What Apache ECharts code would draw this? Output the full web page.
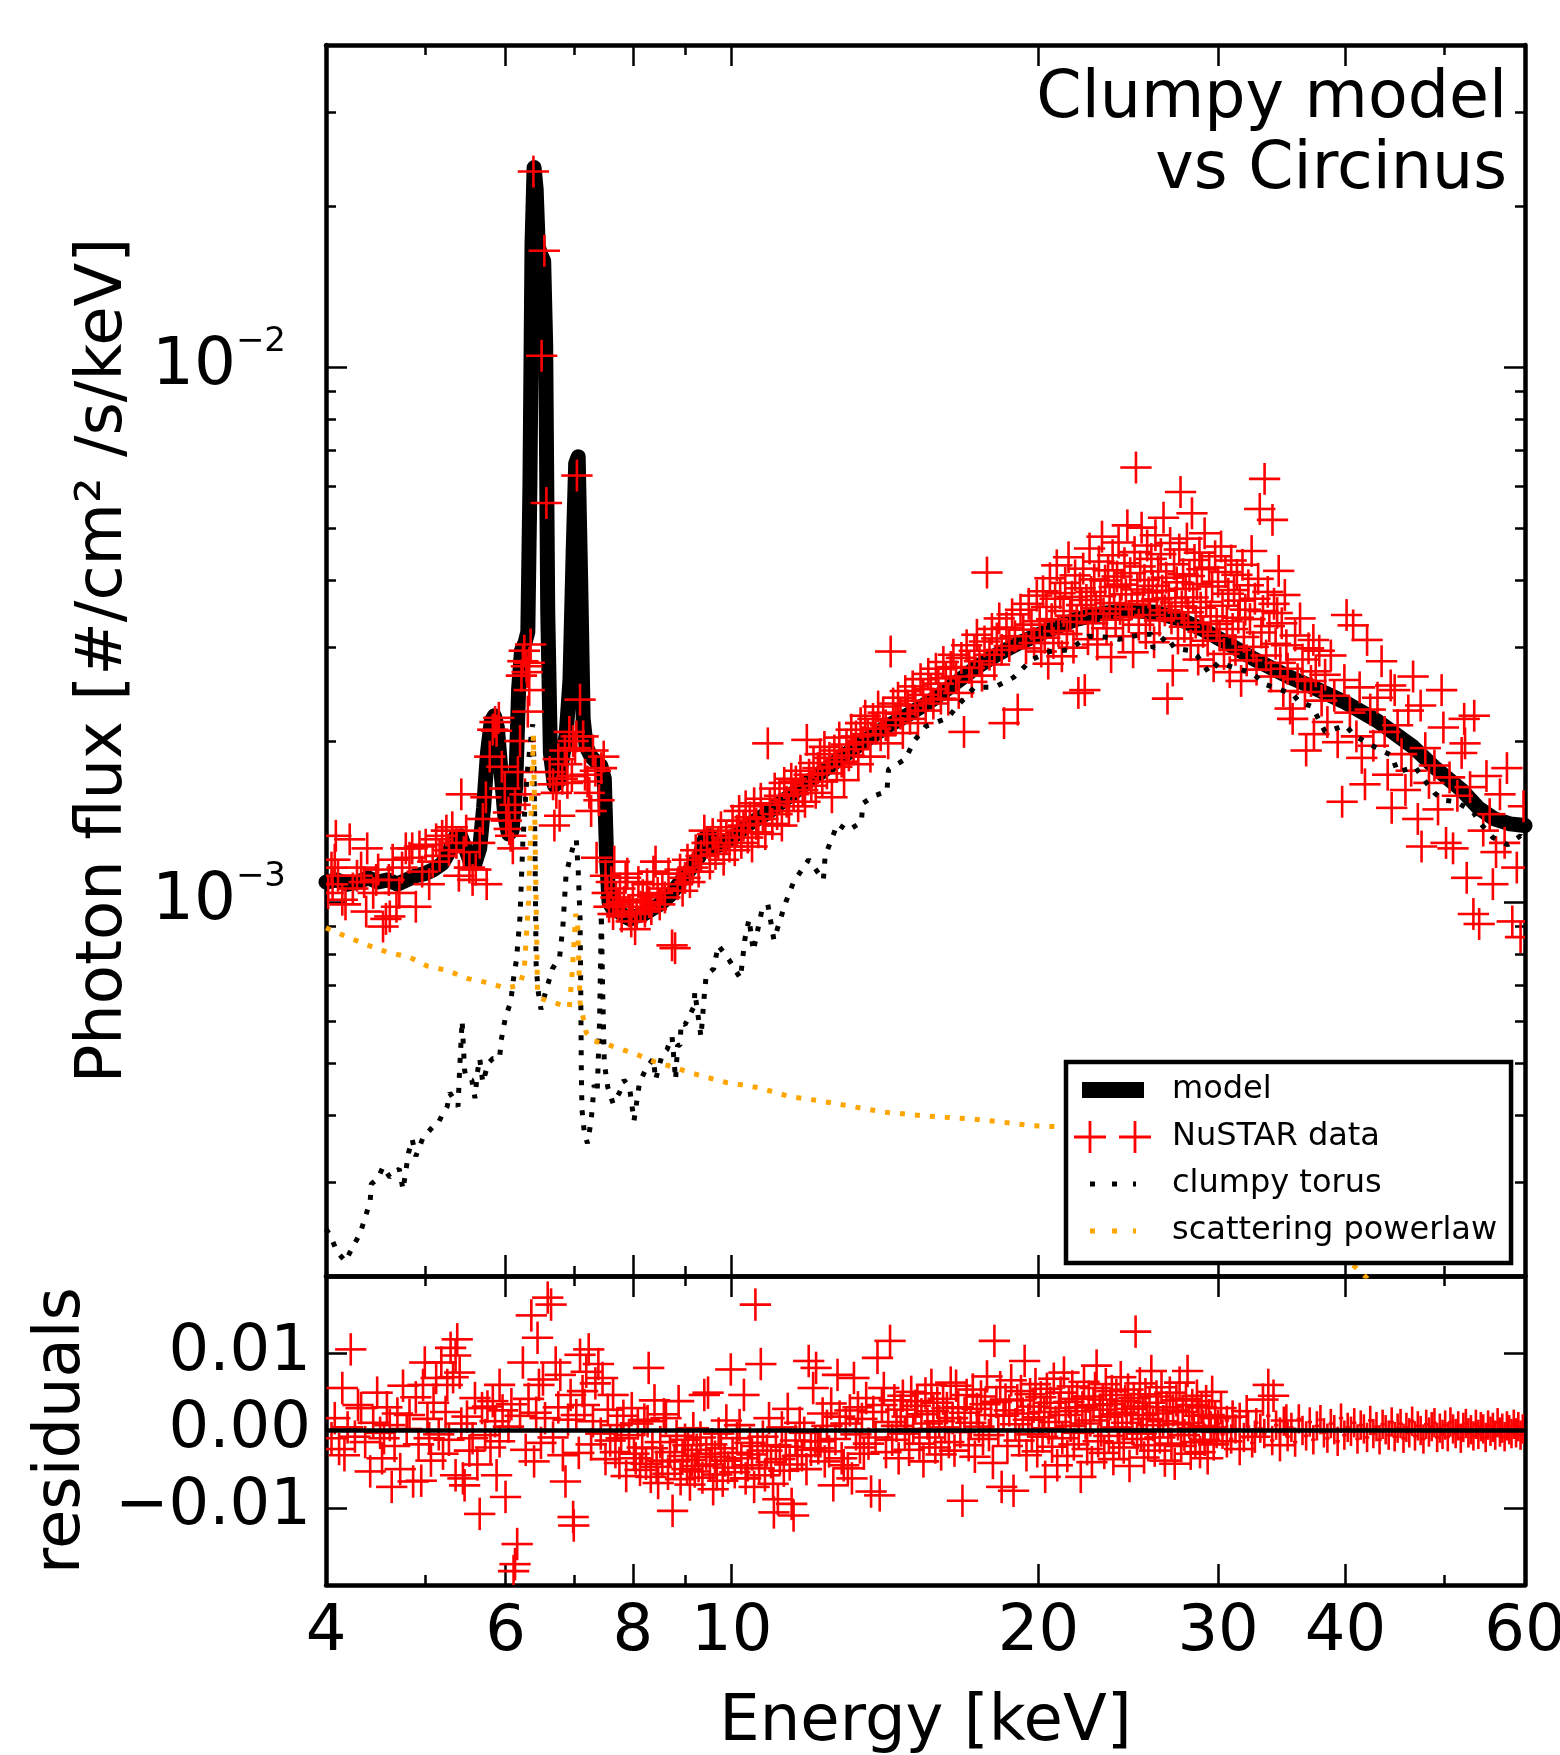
<!DOCTYPE html>
<html><head><meta charset="utf-8">
<script src="https://cdn.jsdelivr.net/npm/echarts@6/dist/echarts.min.js"></script>
<style>html,body{margin:0;padding:0;background:#fff}#c{width:1560px;height:1755px}</style>
</head><body><div id="c"></div>
<script>
// ---------------- DATA ----------------
// energies in keV; fluxes in units of 1e-4 photons/cm^2/s/keV; residuals in units of 1e-3
const energyLabels = [4, 6, 8, 10, 20, 30, 40, 60];
const energyMajorTicks = [6, 8, 10, 20, 30, 40];
const energyMinorTicks = [5, 7, 9, 50];
const fluxMajorTicks = [1e-3, 1e-2];
const fluxMinorTicks = [3e-4,4e-4,5e-4,6e-4,7e-4,8e-4,9e-4,2e-3,3e-3,4e-3,5e-3,6e-3,7e-3,8e-3,9e-3,2e-2,3e-2];
const residTicks = [-0.01, 0, 0.01];

// error bar half sizes read from the crosses
const energyErrFrac = 0.036;
const fluxErrFrac = 0.071;
const residErr = 0.0021;
const residHiEnergyErrFrac = 0.005;
const residHiErr = 0.0019;

const modelFlux = [[4.00,10.9],[4.10,11.0],[4.20,10.8],[4.30,10.9],[4.40,11.1],[4.50,10.9],[4.60,11.0],[4.70,10.8],[4.80,11.0],[4.90,11.2],[5.00,11.3],[5.10,11.5],[5.20,11.8],[5.28,12.4],[5.35,13.2],[5.42,13.3],[5.48,12.6],[5.54,11.9],[5.60,11.8],[5.66,12.6],[5.71,15.0],[5.76,19.0],[5.81,21.8],[5.85,22.3],[5.89,21.2],[5.94,17.5],[5.99,14.5],[6.04,13.4],[6.09,13.6],[6.14,16.5],[6.18,25.0],[6.22,29.5],[6.27,30.5],[6.31,32.0],[6.34,60],[6.37,170],[6.40,236],[6.43,215],[6.46,168],[6.50,162],[6.54,158],[6.57,110],[6.60,35],[6.64,19],[6.70,16.5],[6.76,16.8],[6.82,18.5],[6.88,20.5],[6.94,26],[6.99,45],[7.03,66],[7.07,68],[7.11,40],[7.15,22],[7.20,19.5],[7.28,18.7],[7.36,18.3],[7.44,18.0],[7.50,17.0],[7.54,12.0],[7.58,10.0],[7.65,9.7],[7.75,9.6],[7.85,9.4],[7.95,9.3],[8.05,9.4],[8.20,9.5],[8.35,9.7],[8.50,9.9],[8.70,10.3],[8.90,10.9],[9.10,11.5],[9.30,12.2],[9.42,13.2],[9.52,13.3],[9.62,12.7],[9.75,12.8],[9.90,13.0],[10.1,13.4],[10.4,14.0],[10.8,14.6],[11.2,15.4],[11.7,16.4],[12.3,17.6],[12.8,18.6],[13.5,20.0],[14.2,21.3],[14.9,22.4],[15.8,24.0],[16.5,25.5],[17.3,27.3],[18.2,29.0],[19.2,30.6],[20.3,32.0],[21.7,33.7],[23.0,34.6],[24.5,35.1],[26.0,34.8],[27.5,33.8],[29.0,32.3],[30.6,30.5],[32.5,28.5],[35.0,26.5],[37.0,25.3],[40.0,23.6],[43.0,21.8],[46.6,19.5],[49.0,17.8],[52.0,16.2],[54.0,15.0],[56.0,14.3],[58.0,14.0],[60.0,13.9]];

const torusFlux = [[4.00,2.45],[4.04,2.38],[4.10,2.22],[4.18,2.13],[4.24,2.25],[4.32,2.40],[4.38,2.61],[4.42,2.76],[4.43,2.97],[4.50,3.05],[4.55,3.20],[4.62,3.06],[4.67,3.12],[4.72,3.17],[4.76,2.90],[4.82,3.40],[4.86,3.60],[4.90,3.35],[4.98,3.63],[5.04,3.72],[5.09,3.80],[5.15,3.85],[5.20,4.00],[5.26,4.15],[5.29,4.40],[5.35,4.25],[5.39,4.15],[5.41,4.90],[5.44,6.00],[5.47,4.85],[5.49,4.70],[5.56,4.65],[5.60,4.30],[5.63,4.80],[5.66,5.10],[5.70,4.60],[5.77,5.00],[5.83,5.10],[5.92,5.10],[5.94,5.50],[6.00,6.10],[6.07,6.50],[6.11,7.20],[6.15,7.80],[6.20,9.40],[6.22,11.1],[6.24,13.0],[6.30,17.4],[6.35,20.0],[6.38,21.5],[6.40,18.0],[6.43,7.6],[6.46,6.8],[6.50,6.3],[6.57,6.8],[6.67,7.5],[6.78,7.9],[6.83,9.0],[6.88,11.3],[6.99,12.7],[7.04,13.1],[7.07,11.5],[7.10,9.3],[7.11,7.1],[7.12,4.9],[7.13,4.1],[7.17,3.7],[7.22,3.54],[7.28,3.9],[7.33,4.55],[7.38,4.4],[7.42,6.0],[7.45,9.5],[7.47,7.0],[7.50,5.0],[7.56,4.5],[7.65,4.2],[7.76,4.4],[7.84,4.65],[7.94,4.5],[8.02,3.9],[8.12,4.6],[8.25,4.9],[8.38,5.1],[8.42,4.65],[8.55,5.2],[8.64,5.3],[8.74,5.6],[8.81,4.66],[8.85,5.4],[8.90,5.4],[8.92,5.95],[9.00,5.9],[9.19,6.4],[9.20,6.8],[9.33,5.6],[9.40,6.7],[9.44,7.3],[9.60,7.5],[9.70,8.3],[9.94,7.8],[10.2,7.2],[10.3,8.5],[10.4,9.3],[10.5,8.1],[10.7,9.6],[10.85,9.9],[11.0,8.5],[11.3,10.0],[11.5,10.9],[11.9,12.0],[12.3,11.0],[12.35,12.2],[12.7,14.0],[13.0,13.6],[13.4,14.1],[13.45,15.3],[13.8,15.8],[14.2,16.1],[14.25,17.7],[14.8,18.5],[15.1,20.0],[15.5,21.3],[16.3,22.1],[16.6,23.1],[17.3,25.2],[18.1,25.2],[18.9,26.3],[19.7,28.4],[20.5,29.4],[21.4,29.6],[22.4,31.4],[23.2,31.3],[24.0,31.0],[24.7,31.4],[25.8,31.7],[25.9,29.8],[26.7,31.4],[27.2,29.8],[28.2,29.5],[28.6,28.9],[29.4,26.8],[30.0,28.0],[30.8,27.6],[32.4,26.8],[33.4,25.5],[34.4,25.0],[35.5,24.5],[36.0,23.7],[37.1,23.2],[38.2,20.8],[40.0,21.4],[40.8,20.5],[42.1,19.8],[43.4,19.2],[44.4,18.8],[45.0,17.5],[46.8,17.9],[47.8,16.9],[48.9,16.0],[49.9,15.5],[51.4,15.4],[53.4,14.7],[54.3,14.0],[55.8,13.2],[57.7,12.8],[59.4,13.3],[60.0,13.0]];

const scatterFlux = [[4.00,8.95],[4.20,8.6],[4.40,8.3],[4.60,8.05],[4.82,7.9],[5.02,7.6],[5.26,7.45],[5.50,7.2],[5.76,7.07],[6.00,6.9],[6.20,7.0],[6.26,7.5],[6.32,10.0],[6.36,15.0],[6.39,20.5],[6.42,12.0],[6.45,6.8],[6.50,6.6],[6.67,6.5],[6.93,6.35],[6.98,7.5],[7.03,9.5],[7.06,9.2],[7.10,6.5],[7.20,5.7],[7.31,5.5],[7.50,5.45],[7.65,5.37],[8.05,5.2],[8.40,5.03],[8.81,4.9],[9.10,4.8],[9.47,4.7],[9.88,4.6],[10.25,4.55],[10.62,4.5],[11.4,4.33],[12.2,4.25],[13.1,4.15],[14.1,4.05],[15.1,4.0],[16.2,3.96],[17.2,3.93],[18.4,3.88],[19.7,3.82],[21.0,3.8],[23.0,3.72],[25.0,3.62],[27.0,3.5],[29.0,3.35],[31.0,3.2],[33.0,3.0],[35.0,2.78],[37.0,2.5],[39.0,2.25],[41.0,2.07],[42.0,1.98],[45.0,1.75],[50.0,1.45],[55.0,1.25],[60.0,1.1]];

const nustar_4to5p7keV = [[4.02,10.4],[4.05,11.6],[4.06,10.8],[4.08,12.0],[4.09,13.3],[4.11,11.2],[4.15,10.1],[4.18,9.9],[4.22,13.1],[4.25,10.6],[4.29,11.2],[4.33,11.6],[4.36,10.9],[4.38,9.6],[4.39,12.6],[4.45,10.4],[4.48,11.0],[4.50,11.5],[4.55,9.0],[4.58,9.3],[4.61,11.0],[4.62,9.4],[4.65,12.0],[4.69,9.8],[4.72,10.4],[4.75,11.6],[4.79,12.6],[4.83,12.1],[4.86,12.6],[4.90,9.8],[4.94,12.7],[4.97,11.4],[5.01,12.8],[5.05,10.8],[5.09,11.9],[5.13,13.1],[5.17,12.2],[5.20,13.3],[5.25,13.6],[5.28,12.5],[5.32,13.8],[5.37,12.9],[5.40,11.2],[5.43,15.9],[5.46,12.4],[5.49,13.6],[5.53,11.6],[5.57,11.0],[5.61,11.5],[5.66,12.9]];
const nustar_FeK = [[5.70,14.3],[5.74,15.7],[5.75,10.8],[5.79,18.7],[5.83,21.0],[5.86,21.7],[5.88,20.9],[5.91,22.1],[5.95,17.9],[5.99,16.3],[6.01,14.2],[6.04,14.7],[6.05,13.7],[6.07,13.3],[6.10,12.6],[6.13,15.2],[6.17,17.5],[6.20,20.0],[6.22,26.5],[6.24,28.2],[6.26,29.5],[6.27,15.9],[6.29,27.6],[6.30,26.9],[6.31,22.7],[6.33,28.0],[6.35,30.3],[6.33,24.9],[6.39,232],[6.51,105],[6.55,165],[6.58,55.7],[6.63,17.5],[6.68,16.6],[6.70,13.9],[6.73,16.0],[6.76,18.5],[6.78,14.5],[6.82,17.0],[6.86,19.2],[6.89,18.1],[6.90,16.7],[6.93,20.8],[6.97,17.2],[6.99,20.0],[7.02,19.4],[7.04,20.4],[7.05,62.7],[7.10,23.9],[7.15,20.4],[7.18,17.3],[7.22,16.8],[7.25,16.0],[7.28,14.8],[7.31,19.2],[7.35,17.6],[7.37,12.1],[7.41,15.5],[7.45,17.8],[7.49,18.7]];
const nustar_7p5to10keV = [[7.52,11.2],[7.55,10.4],[7.58,9.8],[7.62,10.9],[7.65,9.5],[7.67,11.9],[7.70,10.2],[7.74,9.9],[7.77,10.6],[7.80,9.4],[7.84,10.0],[7.87,11.1],[7.90,11.3],[7.93,9.6],[7.97,9.2],[8.00,10.1],[8.04,8.9],[8.07,9.5],[8.10,10.9],[8.14,9.8],[8.18,10.3],[8.22,9.6],[8.26,10.8],[8.30,10.0],[8.34,9.7],[8.38,11.4],[8.42,11.9],[8.46,10.4],[8.50,9.9],[8.55,10.6],[8.60,10.2],[8.67,11.3],[8.74,8.3],[8.80,8.2],[8.85,10.8],[8.90,11.5],[8.95,10.5],[9.00,11.1],[9.05,12.0],[9.10,10.9],[9.16,11.6],[9.22,12.5],[9.28,11.4],[9.33,12.2],[9.40,13.6],[9.46,12.9],[9.52,11.8],[9.58,13.4],[9.64,12.3],[9.70,12.9],[9.76,13.8],[9.82,12.0],[9.88,13.2],[9.95,12.7]];
const nustar_10to20keV = [[10.02,14.2],[10.07,12.5],[10.12,13.6],[10.17,14.8],[10.22,12.9],[10.27,13.9],[10.32,15.1],[10.37,13.2],[10.42,14.4],[10.47,12.7],[10.52,15.3],[10.57,14.0],[10.62,13.5],[10.68,15.6],[10.73,14.3],[10.79,13.4],[10.85,19.8],[10.90,15.2],[10.96,14.0],[11.02,16.3],[11.08,14.6],[11.14,15.8],[11.20,13.9],[11.26,16.7],[11.32,15.4],[11.38,14.8],[11.44,17.0],[11.50,15.9],[11.56,16.8],[11.62,15.1],[11.68,17.6],[11.74,16.2],[11.80,15.4],[11.85,20.1],[11.91,17.3],[11.97,16.5],[12.03,18.2],[12.09,16.0],[12.15,17.8],[12.21,18.9],[12.27,16.8],[12.33,19.5],[12.40,17.4],[12.47,18.6],[12.54,15.7],[12.61,19.2],[12.68,17.9],[12.75,20.3],[12.82,18.3],[12.89,16.9],[12.96,19.7],[13.03,18.8],[13.10,21.0],[13.17,19.3],[13.24,20.4],[13.31,18.1],[13.38,21.6],[13.45,19.9],[13.52,22.3],[13.60,20.6],[13.68,18.7],[13.76,22.0],[13.84,21.1],[13.92,23.2],[14.00,20.5],[14.08,22.6],[14.16,21.4],[14.24,19.8],[14.32,29.4],[14.40,23.5],[14.48,21.9],[14.56,24.1],[14.64,22.5],[14.72,20.7],[14.80,24.8],[14.88,23.3],[14.96,22.0],[15.05,25.3],[15.14,23.8],[15.23,21.6],[15.32,26.1],[15.41,24.4],[15.50,22.8],[15.59,26.7],[15.68,25.0],[15.77,23.5],[15.86,27.3],[15.95,25.6],[16.04,24.0],[16.13,28.1],[16.22,26.2],[16.31,23.9],[16.40,27.5],[16.50,29.0],[16.60,26.4],[16.70,24.6],[16.80,28.6],[16.90,20.8],[17.00,30.2],[17.10,27.4],[17.20,25.8],[17.30,29.5],[17.40,31.6],[17.50,28.2],[17.60,26.5],[17.70,30.7],[17.80,41.3],[17.90,29.0],[18.00,32.4],[18.10,27.8],[18.20,31.1],[18.30,33.9],[18.40,29.6],[18.50,21.6],[18.60,32.6],[18.72,30.1],[18.84,34.5],[18.96,31.4],[19.08,22.9],[19.20,35.2],[19.32,32.3],[19.44,29.8],[19.56,36.1],[19.68,33.0],[19.80,30.5],[19.92,37.4]];
const nustar_20to35keV = [[20.05,33.5],[20.12,29.4],[20.20,38.1],[20.28,31.2],[20.36,35.6],[20.44,27.9],[20.52,40.3],[20.60,33.8],[20.68,30.5],[20.76,36.9],[20.84,42.6],[20.92,32.1],[21.00,37.8],[21.08,28.8],[21.16,35.0],[21.24,39.5],[21.32,31.7],[21.40,44.1],[21.48,34.3],[21.56,37.2],[21.64,29.9],[21.72,40.8],[21.80,33.4],[21.88,24.6],[21.96,38.6],[22.04,35.9],[22.12,42.0],[22.20,24.9],[22.28,36.7],[22.36,31.0],[22.44,45.8],[22.52,38.0],[22.60,33.2],[22.68,40.1],[22.76,35.4],[22.84,30.3],[22.92,43.3],[23.00,37.3],[23.08,48.2],[23.16,34.6],[23.24,39.9],[23.32,32.5],[23.40,41.7],[23.48,36.2],[23.56,28.7],[23.64,44.5],[23.72,38.8],[23.80,33.7],[23.88,40.6],[23.96,47.0],[24.04,35.3],[24.12,39.2],[24.20,31.4],[24.28,43.0],[24.36,37.6],[24.44,50.6],[24.52,34.1],[24.60,41.2],[24.68,36.0],[24.76,29.3],[24.84,45.1],[24.92,64.9],[25.00,38.4],[25.08,33.0],[25.16,42.4],[25.24,50.1],[25.32,36.5],[25.40,40.0],[25.48,31.8],[25.56,46.4],[25.64,37.9],[25.72,34.4],[25.80,43.8],[25.88,39.0],[25.96,30.6],[26.04,48.5],[26.12,36.8],[26.20,41.5],[26.28,33.6],[26.36,44.7],[26.44,38.2],[26.52,52.3],[26.60,35.1],[26.68,40.4],[26.76,24.0],[26.84,37.0],[26.92,46.9],[27.00,33.9],[27.08,27.1],[27.16,42.8],[27.24,36.3],[27.32,39.6],[27.40,31.1],[27.48,45.6],[27.56,58.4],[27.64,35.7],[27.72,41.0],[27.80,32.7],[27.88,38.5],[27.96,47.8],[28.04,34.8],[28.12,40.7],[28.20,30.2],[28.28,53.3],[28.36,37.1],[28.44,43.6],[28.52,33.3],[28.60,39.3],[28.68,28.4],[28.76,45.0],[28.84,35.5],[28.92,41.9],[29.00,32.0],[29.10,48.9],[29.20,36.4],[29.30,30.8],[29.40,42.2],[29.50,34.2],[29.60,38.9],[29.70,27.6],[29.80,44.3],[29.90,33.1],[30.00,39.7],[30.10,31.5],[30.20,46.2],[30.30,35.8],[30.40,29.1],[30.50,41.4],[30.60,33.5],[30.70,37.7],[30.80,26.9],[30.90,43.5],[31.00,32.4],[31.10,38.3],[31.20,29.6],[31.30,40.9],[31.40,34.0],[31.50,36.6],[31.60,25.9],[31.70,42.7],[31.80,31.3],[31.90,35.2],[32.00,28.3],[32.12,39.1],[32.24,33.8],[32.36,45.3],[32.48,30.0],[32.60,36.9],[32.72,27.2],[32.84,40.2],[32.96,54.3],[33.08,31.9],[33.20,35.0],[33.32,61.8],[33.44,28.9],[33.56,38.0],[33.68,32.8],[33.80,26.4],[33.92,51.8],[34.04,36.1],[34.16,30.4],[34.28,34.7],[34.40,41.6],[34.52,28.0],[34.64,33.2],[34.76,24.8],[34.88,37.5]];
const nustar_35to60keV = [[35.0,30.2],[35.1,27.3],[35.3,23.0],[35.5,22.0],[35.7,31.5],[35.9,26.1],[36.1,33.9],[36.3,28.4],[36.5,24.7],[36.6,19.2],[36.8,29.8],[37.0,25.9],[37.2,30.9],[37.25,20.6],[37.4,27.0],[37.7,29.5],[37.9,23.8],[38.2,26.6],[38.4,21.7],[38.7,28.9],[39.0,24.3],[39.3,19.9],[39.7,15.4],[39.9,26.0],[40.1,34.4],[40.4,22.6],[40.7,32.9],[41.0,20.4],[41.3,25.2],[41.5,18.6],[41.8,16.6],[42.0,30.9],[42.3,22.9],[42.6,19.6],[43.0,24.1],[43.4,28.2],[43.7,20.8],[44.0,17.3],[44.3,25.4],[44.4,15.0],[44.7,24.9],[45.0,21.4],[45.4,18.9],[45.8,16.2],[46.1,22.8],[46.4,17.6],[46.6,26.4],[47.1,14.3],[47.4,23.3],[47.5,12.7],[47.9,19.4],[48.3,16.7],[48.9,18.0],[49.3,14.9],[49.7,24.9],[49.9,21.2],[50.2,12.9],[50.6,17.1],[51.0,12.6],[51.5,15.8],[52.0,19.0],[52.3,22.0],[52.4,19.8],[52.6,11.1],[53.0,16.4],[53.4,9.5],[53.5,22.3],[54.1,9.1],[54.6,13.6],[55.0,17.2],[55.4,14.6],[55.8,10.8],[56.2,12.4],[56.7,15.9],[57.3,12.9],[57.6,17.8],[58.3,9.2],[58.9,11.6],[59.4,8.6],[59.8,15.1]];

const resid_4to8keV = [[4.05,-1.0],[4.08,1.6],[4.12,-2.4],[4.15,5.5],[4.17,-3.2],[4.20,0.4],[4.23,10.5],[4.27,-0.8],[4.30,3.3],[4.33,2.9],[4.37,-1.5],[4.42,-5.3],[4.45,1.0],[4.49,4.9],[4.52,-0.3],[4.54,-3.6],[4.56,-1.0],[4.59,3.0],[4.62,0.7],[4.64,-7.3],[4.67,-2.0],[4.70,2.2],[4.73,-5.0],[4.76,5.8],[4.80,0.2],[4.83,2.0],[4.87,-6.6],[4.90,4.3],[4.93,-1.8],[4.96,-6.5],[4.98,5.9],[5.00,8.8],[5.03,1.5],[5.05,-1.0],[5.07,-3.9],[5.10,3.6],[5.13,6.8],[5.16,-0.5],[5.19,8.8],[5.21,-3.0],[5.24,2.4],[5.26,5.9],[5.28,-1.2],[5.30,10.7],[5.33,6.9],[5.36,9.7],[5.36,-5.8],[5.38,11.8],[5.41,7.5],[5.43,0.9],[5.45,-6.2],[5.47,-7.1],[5.50,1.8],[5.53,-2.6],[5.57,-1.0],[5.60,4.2],[5.63,-4.4],[5.66,-10.8],[5.69,2.9],[5.73,-0.6],[5.76,3.1],[5.80,-2.2],[5.83,3.8],[5.86,1.2],[5.88,-5.8],[5.92,5.9],[5.92,-1.4],[5.96,2.6],[6.00,-8.6],[6.04,0.5],[6.08,3.4],[6.11,-18.2],[6.13,-17.3],[6.16,-14.7],[6.20,1.9],[6.24,8.8],[6.28,-2.5],[6.32,4.1],[6.36,14.9],[6.40,-4.0],[6.43,2.3],[6.45,12.0],[6.47,5.9],[6.50,-1.6],[6.53,6.6],[6.56,1.6],[6.60,17.2],[6.65,16.3],[6.68,-0.9],[6.72,8.8],[6.76,3.0],[6.79,7.2],[6.83,-3.2],[6.87,-6.6],[6.91,1.4],[6.95,4.6],[6.99,-11.2],[7.00,-12.3],[7.04,2.0],[7.08,-2.9],[7.10,9.8],[7.14,5.1],[7.17,3.3],[7.20,7.6],[7.24,10.5],[7.28,-1.8],[7.31,1.2],[7.35,6.1],[7.40,8.6],[7.44,-0.4],[7.47,6.8],[7.52,-3.7],[7.56,2.7],[7.60,-1.3],[7.65,4.6],[7.69,-2.8],[7.72,0.7],[7.76,-4.2],[7.79,-1.0],[7.83,1.9],[7.88,-5.9],[7.93,-0.6],[7.98,2.9]];
const resid_8to14keV = [[8.02,-3.0],[8.05,-3.6],[8.09,0.9],[8.13,-5.1],[8.17,-2.2],[8.21,1.4],[8.24,-4.3],[8.27,1.2],[8.29,8.1],[8.33,-6.0],[8.36,-2.3],[8.40,3.9],[8.44,-4.7],[8.47,-6.8],[8.51,-1.5],[8.55,-3.9],[8.58,2.1],[8.62,1.6],[8.66,-5.6],[8.70,-2.8],[8.75,-10.4],[8.79,-4.0],[8.83,-0.7],[8.87,3.8],[8.91,-6.3],[8.95,-3.3],[9.00,-1.2],[9.04,-5.0],[9.06,-1.9],[9.10,-7.0],[9.14,-3.8],[9.17,0.3],[9.20,-5.3],[9.24,-2.5],[9.28,-4.6],[9.32,-0.9],[9.36,-6.1],[9.40,4.6],[9.44,-3.0],[9.48,4.9],[9.52,-4.4],[9.56,-1.8],[9.59,-7.6],[9.63,-3.4],[9.67,-5.7],[9.71,-0.4],[9.76,-2.3],[9.80,-6.5],[9.84,-3.9],[9.88,1.3],[9.92,-4.8],[9.98,7.9],[10.02,-2.9],[10.07,-5.4],[10.12,-1.0],[10.18,0.7],[10.22,-3.6],[10.28,4.6],[10.32,-6.2],[10.37,-4.5],[10.42,-1.6],[10.47,-3.1],[10.52,-7.3],[10.55,16.3],[10.60,-2.0],[10.64,-4.9],[10.68,8.6],[10.73,-0.8],[10.78,-5.8],[10.83,-2.6],[10.88,1.6],[10.93,-4.1],[10.98,-6.9],[11.00,-10.6],[11.05,-1.9],[11.10,-8.9],[11.15,-3.7],[11.20,0.4],[11.25,-5.2],[11.30,-2.1],[11.35,2.8],[11.40,-4.4],[11.45,-9.5],[11.50,-11.0],[11.55,-1.3],[11.60,-3.3],[11.66,1.0],[11.72,-3.2],[11.78,-0.3],[11.84,-5.0],[11.90,9.0],[11.96,-2.5],[12.02,5.5],[12.08,-1.4],[12.10,8.1],[12.16,-2.3],[12.22,-1.4],[12.28,2.2],[12.34,-4.0],[12.40,0.6],[12.46,-2.7],[12.52,3.5],[12.58,-7.1],[12.64,-1.1],[12.70,7.2],[12.76,1.8],[12.82,-3.6],[12.88,-4.5],[12.94,0.9],[13.00,-4.9],[13.06,2.6],[13.12,-6.2],[13.18,6.8],[13.24,-0.5],[13.30,3.0],[13.36,-2.2],[13.42,1.5],[13.48,-3.0],[13.55,4.2],[13.62,-1.7],[13.70,-7.9],[13.77,2.4],[13.84,-0.9],[13.90,9.4],[13.97,-8.4],[14.04,3.3],[14.10,5.5],[14.17,-2.8],[14.24,1.1],[14.30,11.6]];
const resid_14to35keV = [[14.37,-1.2],[14.44,3.9],[14.51,0.6],[14.58,-3.6],[14.65,2.7],[14.72,4.5],[14.79,-0.4],[14.86,1.8],[14.93,-2.5],[15.00,5.0],[15.07,0.2],[15.14,3.2],[15.21,3.8],[15.28,-1.7],[15.35,2.1],[15.42,-4.0],[15.49,4.8],[15.56,0.9],[15.63,-0.9],[15.70,5.9],[15.77,2.5],[15.84,-2.2],[15.91,3.6],[15.98,1.2],[16.05,-3.1],[16.12,4.1],[16.19,0.4],[16.26,2.9],[16.33,-1.5],[16.40,6.2],[16.47,1.6],[16.54,-2.6],[16.60,5.8],[16.68,3.0],[16.76,-0.2],[16.84,-9.1],[16.92,2.3],[17.00,4.6],[17.08,-1.9],[17.16,1.0],[17.24,5.3],[17.32,-3.4],[17.40,2.8],[17.48,0.5],[17.56,4.4],[17.64,-1.1],[17.72,3.4],[17.80,7.0],[17.88,-0.6],[17.96,2.0],[18.04,-4.2],[18.10,11.6],[18.18,3.7],[18.26,0.1],[18.34,5.6],[18.40,-7.3],[18.48,1.9],[18.56,4.0],[18.64,-2.0],[18.72,2.6],[18.80,6.5],[18.90,-7.8],[18.98,0.8],[19.06,3.9],[19.14,-1.3],[19.22,5.1],[19.30,2.2],[19.38,9.0],[19.46,-3.2],[19.54,1.4],[19.62,4.7],[19.70,-0.5],[19.78,3.1],[19.86,6.0],[19.94,-2.7],[20.02,1.7],[20.10,4.3],[20.18,-0.8],[20.26,2.4],[20.30,-6.0],[20.38,5.4],[20.46,0.3],[20.54,3.6],[20.62,-2.1],[20.70,6.7],[20.78,1.1],[20.86,-4.5],[20.94,2.9],[21.02,4.9],[21.10,-1.0],[21.18,7.5],[21.26,2.0],[21.34,-3.3],[21.42,3.7],[21.50,0.6],[21.58,5.7],[21.66,-1.8],[21.74,2.5],[21.82,4.1],[21.90,-0.3],[22.00,-6.0],[22.08,3.0],[22.16,6.3],[22.24,0.9],[22.32,-2.4],[22.40,4.4],[22.48,1.3],[22.56,-4.1],[22.64,3.3],[22.72,5.5],[22.80,8.4],[22.88,-1.4],[22.96,2.7],[23.04,0.0],[23.12,4.0],[23.20,-2.9],[23.28,6.0],[23.36,1.8],[23.44,-0.7],[23.52,3.4],[23.60,5.1],[23.68,-3.7],[23.76,2.1],[23.84,4.6],[23.92,0.4],[24.00,-1.6],[24.08,6.9],[24.16,2.3],[24.24,-2.2],[24.32,3.8],[24.40,1.0],[24.48,5.3],[24.56,-4.6],[24.64,2.8],[24.72,0.2],[24.80,4.2],[24.90,12.8],[24.98,-1.1],[25.06,3.1],[25.14,6.1],[25.22,-0.4],[25.30,2.0],[25.38,-3.5],[25.46,4.7],[25.54,1.5],[25.62,-1.9],[25.70,3.6],[25.80,7.7],[25.90,0.7],[26.00,-2.6],[26.10,4.4],[26.20,2.2],[26.30,-0.9],[26.40,5.6],[26.50,1.2],[26.60,-3.9],[26.70,3.0],[26.80,0.1],[26.90,4.9],[27.00,-1.7],[27.10,2.6],[27.20,-4.3],[27.30,3.9],[27.40,0.8],[27.50,6.2],[27.60,-2.0],[27.70,2.4],[27.80,-0.6],[27.90,4.1],[28.00,7.7],[28.10,1.0],[28.20,-3.0],[28.30,3.3],[28.40,0.3],[28.50,-1.5],[28.60,4.5],[28.70,1.9],[28.80,-2.8],[28.90,3.0],[29.00,0.6],[29.10,-1.2],[29.20,3.8],[29.30,-3.6],[29.40,2.0],[29.50,0.4],[29.60,5.0],[29.70,-1.8],[29.80,1.6],[29.90,-0.2],[30.20,2.9],[30.60,-1.4],[31.00,1.8],[31.50,-2.4],[32.00,2.5],[32.60,-0.8],[33.20,4.0],[33.60,5.9],[34.00,4.5],[34.50,-1.9],[35.00,1.3]];
const resid_30to60keV_fine = [[30.0,0.8],[30.3,-0.5],[30.6,1.3],[30.9,-1.1],[31.2,0.2],[31.5,1.7],[31.8,-0.9],[32.1,0.5],[32.4,-1.6],[32.7,1.0],[33.0,0.3],[33.3,-0.4],[33.6,1.9],[33.9,-1.3],[34.2,0.7],[34.5,-0.2],[34.8,1.2],[35.1,-0.8],[35.4,0.4],[35.7,-1.5],[36.0,1.5],[36.3,0.0],[36.6,-0.7],[36.9,1.1],[37.2,-1.2],[37.5,0.6],[37.8,1.4],[38.1,-0.3],[38.4,-1.0],[38.7,0.9],[39.0,0.1],[39.3,-1.4],[39.6,1.6],[39.9,-0.6],[40.2,0.4],[40.5,-0.1],[40.8,1.0],[41.1,-1.1],[41.4,0.7],[41.7,0.2],[42.0,-0.9],[42.3,1.3],[42.6,-0.4],[42.9,0.5],[43.2,-1.2],[43.5,0.8],[43.8,0.1],[44.1,-0.6],[44.4,1.1],[44.7,-0.8],[45.0,0.3],[45.3,0.9],[45.6,-1.0],[45.9,0.4],[46.2,-0.3],[46.5,1.2],[46.8,-0.7],[47.1,0.6],[47.4,0.0],[47.7,-1.1],[48.0,0.8],[48.3,-0.2],[48.6,0.5],[48.9,1.0],[49.2,-0.9],[49.5,0.3],[49.8,-0.5],[50.1,0.7],[50.4,-0.8],[50.7,1.1],[51.0,0.2],[51.3,-0.4],[51.6,0.6],[51.9,-1.0],[52.2,0.4],[52.5,0.9],[52.8,-0.3],[53.1,0.1],[53.4,-0.7],[53.7,0.8],[54.0,-0.5],[54.3,0.5],[54.6,0.2],[54.9,-0.9],[55.2,0.7],[55.5,-0.1],[55.8,0.4],[56.1,-0.6],[56.4,1.0],[56.7,-0.2],[57.0,0.3],[57.3,-0.8],[57.6,0.6],[57.9,0.1],[58.2,-0.4],[58.5,0.8],[58.8,-0.3],[59.1,0.5],[59.4,-0.6],[59.7,0.2]];

// ---------------- CHART ----------------
const FONT = 'DejaVu Sans';
const e4 = a => a.map(p => [p[0], p[1] * 1e-4]);
const e3 = a => a.map(p => [p[0], p[1] * 1e-3]);
const nustarPts = e4([].concat(nustar_4to5p7keV, nustar_FeK, nustar_7p5to10keV, nustar_10to20keV, nustar_20to35keV, nustar_35to60keV));
const residPts = e3([].concat(resid_4to8keV, resid_8to14keV, resid_14to35keV));
const residFinePts = e3(resid_30to60keV_fine);

function crossRenderer(exFrac, yErr, yIsFrac, lw) {
  return function (params, api) {
    const e = api.value(0), v = api.value(1);
    const a = api.coord([e / (1 + exFrac), v]), b = api.coord([e * (1 + exFrac), v]);
    const top = yIsFrac ? v * (1 + yErr) : v + yErr;
    const bot = yIsFrac ? v / (1 + yErr) : v - yErr;
    const c = api.coord([e, top]), d = api.coord([e, bot]);
    const st = { stroke: '#ff0000', lineWidth: lw };
    return { type: 'group', children: [
      { type: 'line', shape: { x1: a[0], y1: a[1], x2: b[0], y2: b[1] }, style: st },
      { type: 'line', shape: { x1: c[0], y1: c[1], x2: d[0], y2: d[1] }, style: st }
    ]};
  };
}

const LINE = { color: '#000', width: 4.5 };
const TICK = { color: '#000', width: 2.5 };
function xAxisDef(gridIndex, position, ticks, len, showLine, extra) {
  return Object.assign({
    type: 'log', logBase: 10, gridIndex: gridIndex, position: position, min: 4, max: 60,
    axisLine: { show: showLine, onZero: false, lineStyle: LINE },
    axisTick: { show: true, inside: true, length: len, customValues: ticks, lineStyle: TICK },
    axisLabel: { show: false }, splitLine: { show: false }, minorTick: { show: false }
  }, extra || {});
}
function yLogDef(gridIndex, position, ticks, len, showLine, extra) {
  return Object.assign({
    type: 'log', logBase: 10, gridIndex: gridIndex, position: position, min: 2e-4, max: 4e-2,
    axisLine: { show: showLine, onZero: false, lineStyle: LINE },
    axisTick: { show: true, inside: true, length: len, customValues: ticks, lineStyle: TICK },
    axisLabel: { show: false }, splitLine: { show: false }, minorTick: { show: false }
  }, extra || {});
}
function yResDef(gridIndex, position, extra) {
  return Object.assign({
    type: 'value', gridIndex: gridIndex, position: position, min: -0.02, max: 0.02,
    axisLine: { show: true, onZero: false, lineStyle: LINE },
    axisTick: { show: true, inside: true, length: 21, customValues: residTicks, lineStyle: TICK },
    axisLabel: { show: false }, splitLine: { show: false }
  }, extra || {});
}

const mainRect = { left: 326, top: 45, width: 1199, height: 1231, containLabel: false, outerBoundsMode: 'none' };
const resRect = { left: 326, top: 1276, width: 1199, height: 309, containLabel: false, outerBoundsMode: 'none' };

const dotsPath = 'path://M0,0h0.01v0.01h-0.01zM95,34h-0.01v-0.01h0.01zM18,14.5h5v5h-5zM40,14.5h5v5h-5zM61,14.5h3v5h-3z';

const option = {
  animation: false,
  backgroundColor: '#fff',
  textStyle: { fontFamily: FONT },
  grid: [
    Object.assign({}, mainRect), Object.assign({}, mainRect),
    Object.assign({}, resRect), Object.assign({}, resRect)
  ],
  xAxis: [
    xAxisDef(0, 'bottom', energyMajorTicks, 21, true),
    xAxisDef(0, 'top', energyMajorTicks, 21, true),
    xAxisDef(1, 'bottom', energyMinorTicks, 10, false),
    xAxisDef(1, 'top', energyMinorTicks, 10, false),
    xAxisDef(2, 'bottom', energyMajorTicks, 21, true, {
      axisLabel: { show: true, customValues: energyLabels, formatter: v => String(Math.round(v)),
        fontSize: 64, fontFamily: FONT, color: '#000', margin: 16 },
      name: 'Energy [keV]', nameLocation: 'middle', nameGap: 106,
      nameTextStyle: { fontSize: 64, fontFamily: FONT, color: '#000' }
    }),
    xAxisDef(2, 'top', energyMajorTicks, 21, true),
    xAxisDef(3, 'bottom', energyMinorTicks, 10, false),
    xAxisDef(3, 'top', energyMinorTicks, 10, false)
  ],
  yAxis: [
    yLogDef(0, 'left', fluxMajorTicks, 21, true, {
      axisLabel: { show: true, customValues: fluxMajorTicks, margin: 40,
        formatter: v => '{b|10}{s|\u2212' + Math.round(-Math.log10(v)) + '}',
        rich: { b: { fontSize: 66, fontFamily: FONT, color: '#000' },
                s: { fontSize: 34, fontFamily: FONT, color: '#000', padding: [0, 0, 50, 0] } } },
      name: 'Photon flux [#/cm\u00b2 /s/keV]', nameLocation: 'middle', nameGap: 190,
      nameTextStyle: { fontSize: 64, fontFamily: FONT, color: '#000' }
    }),
    yLogDef(0, 'right', fluxMajorTicks, 21, true),
    yLogDef(1, 'left', fluxMinorTicks, 10, false),
    yLogDef(1, 'right', fluxMinorTicks, 10, false),
    yResDef(2, 'left', {
      axisLabel: { show: true, customValues: residTicks, margin: 15,
        formatter: v => (v < 0 ? '\u2212' : '') + Math.abs(v).toFixed(2),
        fontSize: 64, fontFamily: FONT, color: '#000' },
      name: 'residuals', nameLocation: 'middle', nameGap: 232,
      nameTextStyle: { fontSize: 64, fontFamily: FONT, color: '#000' }
    }),
    yResDef(2, 'right'),
    { type: 'value', gridIndex: 3, show: false, min: -1, max: 1 }
  ],
  legend: {
    orient: 'vertical', left: 1066, top: 1062, z: 20,
    itemWidth: 95, itemHeight: 34, itemGap: 13,
    padding: [11, 14, 15, 6],
    borderColor: '#000', borderWidth: 4.5, borderRadius: 0, backgroundColor: '#fff',
    selectedMode: false,
    itemStyle: { borderWidth: 0 },
    textStyle: { fontSize: 32, fontFamily: FONT, color: '#000', lineHeight: 34 },
    data: [
      { name: 'model', icon: 'path://M0,0h0.01v0.01h-0.01zM95,34h-0.01v-0.01h0.01zM10,9h62v16h-62z' },
      { name: 'NuSTAR data', icon: 'path://M0,0h0.01v0.01h-0.01zM95,34h-0.01v-0.01h0.01zM2,15.6h32v2.8h-32zM16.6,1h2.8v32h-2.8zM47,15.6h32v2.8h-32zM61.6,1h2.8v32h-2.8z' },
      { name: 'clumpy torus', icon: dotsPath },
      { name: 'scattering powerlaw', icon: dotsPath }
    ]
  },
  graphic: [
    { type: 'text', x: 1507, y: 100, style: { text: 'Clumpy model', font: '65px "DejaVu Sans"', fill: '#000', align: 'right', verticalAlign: 'middle' } },
    { type: 'text', x: 1507, y: 171, style: { text: 'vs Circinus', font: '65px "DejaVu Sans"', fill: '#000', align: 'right', verticalAlign: 'middle' } }
  ],
  series: [
    { name: 'model', type: 'line', xAxisIndex: 0, yAxisIndex: 0, data: e4(modelFlux),
      symbol: 'none', showSymbol: false, z: 2, color: '#000', itemStyle: { color: '#000' },
      lineStyle: { color: '#000', width: 15, cap: 'round', join: 'round' } },
    { name: 'NuSTAR data', type: 'custom', xAxisIndex: 0, yAxisIndex: 0, data: nustarPts, clip: true, z: 3,
      itemStyle: { color: '#ff0000' }, renderItem: crossRenderer(energyErrFrac, fluxErrFrac, true, 2.6) },
    { name: 'clumpy torus', type: 'line', xAxisIndex: 0, yAxisIndex: 0, data: e4(torusFlux),
      symbol: 'none', showSymbol: false, z: 3, color: '#000', itemStyle: { color: '#000' },
      lineStyle: { color: '#000', width: 5, type: [5, 10] } },
    { name: 'scattering powerlaw', type: 'line', xAxisIndex: 0, yAxisIndex: 0, data: e4(scatterFlux),
      symbol: 'none', showSymbol: false, z: 3, color: '#ffa500', itemStyle: { color: '#ffa500' },
      lineStyle: { color: '#ffa500', width: 5, type: [5, 10] } },
    { name: 'resid', type: 'custom', xAxisIndex: 4, yAxisIndex: 4, data: residPts, clip: true, z: 2,
      itemStyle: { color: '#ff0000' }, renderItem: crossRenderer(energyErrFrac, residErr, false, 2.6) },
    { name: 'residFine', type: 'custom', xAxisIndex: 4, yAxisIndex: 4, data: residFinePts, clip: true, z: 2,
      itemStyle: { color: '#ff0000' }, renderItem: crossRenderer(residHiEnergyErrFrac, residHiErr, false, 2.6),
      markLine: { silent: true, symbol: 'none', label: { show: false }, animation: false,
        lineStyle: { color: '#000', width: 4.5, type: 'solid' }, data: [{ yAxis: 0 }] } }
  ]
};

const chart = echarts.init(document.getElementById('c'), null, { renderer: 'canvas' });
chart.setOption(option);
</script></body></html>
